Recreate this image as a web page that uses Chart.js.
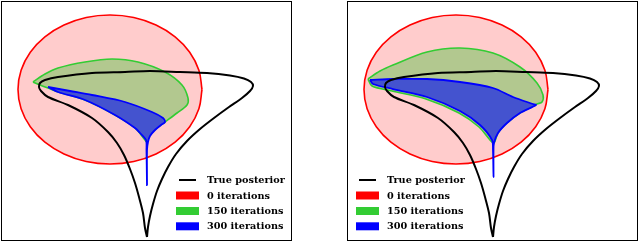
<!DOCTYPE html>
<html>
<head>
<meta charset="utf-8">
<script src="https://cdn.jsdelivr.net/npm/chart.js@4.4.1/dist/chart.umd.min.js"></script>
<style>
  html, body { margin: 0; padding: 0; background: #fff; }
  #wrap { position: relative; width: 640px; height: 242px; }
  canvas { position: absolute; top: 0; }
</style>
</head>
<body>
<div id="wrap">
  <canvas id="left" width="320" height="242" style="left:0"></canvas>
  <canvas id="right" width="320" height="242" style="left:320px"></canvas>
</div>
<script>
// coordinates are in panel units (0..291 wide, 0..240 tall)
const legendLabels = ['True posterior', '0 iterations', '150 iterations', '300 iterations'];

// true posterior contour (same in both panels)
const posteriorX = [146, 147, 149, 152, 156, 161, 167, 175, 186, 199, 213, 228, 241, 249, 252, 250, 243, 229, 206, 179, 149, 124, 91, 57, 44, 39, 38, 40, 47, 67, 91, 107, 116, 123, 129, 134, 138, 142, 144, 146];
const posteriorY = [4, 14, 25, 37, 50, 62, 74, 87, 100, 112, 123, 134, 143, 150, 155, 159, 162.5, 165.5, 168, 169, 170, 169, 168, 164, 161, 158, 154, 150, 144, 136, 123, 109, 98, 86, 72, 58, 44, 28, 13, 4];

// 0 iterations: initial approximation (same in both panels)
const priorX = [201, 197.9, 188.7, 174.1, 155, 132.8, 109, 85.2, 63, 43.9, 29.3, 20.1, 17, 20.1, 29.3, 43.9, 63, 85.2, 109, 132.8, 155, 174.1, 188.7, 197.9, 201];
const priorY = [151.5, 170.8, 188.8, 204.2, 216, 223.5, 226, 223.5, 216, 204.2, 188.8, 170.8, 151.5, 132.2, 114.3, 98.8, 87, 79.5, 77, 79.5, 87, 98.8, 114.3, 132.2, 151.5];

// left panel
const leftGreenX = [32, 44, 57, 84, 111, 137, 164, 181, 187, 186, 176, 164, 156, 149, 146, 144, 134, 114, 84, 57, 47, 39, 32];
const leftGreenY = [159, 167, 173, 179, 182, 179, 169, 156, 143, 136, 128, 119, 113, 106, 99, 101, 113, 126, 141, 149, 153, 156, 159];
const leftBlueX = [47, 69, 91, 124, 151, 162, 164, 160, 154, 149, 147, 146, 146, 145.5, 145, 139, 134, 114, 84, 57, 47];
const leftBlueY = [154, 150, 146, 139, 129, 123, 119, 116, 111, 105, 99, 91, 56, 91, 101, 108, 113, 126, 141, 149, 154];

// right panel
const rightGreenX = [21, 33, 46, 80, 113, 146, 173, 190, 196, 195, 190, 173, 160, 151, 147, 143, 132, 112, 79, 45, 25, 21];
const rightGreenY = [162, 170, 176, 189, 193, 188, 174, 158, 146, 139, 137, 128, 118, 108, 98, 101, 114, 128, 142, 150, 155, 162];
const rightBlueX = [23, 46, 80, 113, 146, 166, 186, 189, 173, 160, 151, 147, 146.5, 146.5, 146, 145, 133, 113, 80, 46, 26, 23];
const rightBlueY = [161, 162, 162, 159, 153, 144, 137, 136, 128, 118, 108, 98, 91, 64, 91, 101, 116, 130, 144, 152, 157, 161];

function pts(xs, ys) {
  return xs.map((x, i) => ({ x: x, y: ys[i] }));
}

const frame = {
  id: 'frame',
  afterDraw(chart) {
    const a = chart.chartArea;
    const ctx = chart.ctx;
    ctx.save();
    ctx.strokeStyle = '#000';
    ctx.lineWidth = 1;
    ctx.strokeRect(a.left + 0.5, a.top + 0.5, a.right - a.left - 1, a.bottom - a.top - 1);
    ctx.restore();
  }
};

const panelLegend = {
  id: 'panelLegend',
  afterDraw(chart, args, opts) {
    const ctx = chart.ctx;
    const rows = [180, 195.5, 211, 226.3];
    ctx.save();
    ctx.font = 'bold 9.7px "DejaVu Serif"';
    ctx.textBaseline = 'middle';
    chart.data.datasets.forEach((ds) => {
      const y = rows[ds.legendRow];
      if (ds.legendRow === 0) {
        ctx.strokeStyle = ds.borderColor;
        ctx.lineWidth = 2;
        ctx.beginPath();
        ctx.moveTo(opts.x + 3, y);
        ctx.lineTo(opts.x + 20, y);
        ctx.stroke();
      } else {
        ctx.fillStyle = ds.borderColor;
        ctx.fillRect(opts.x, y - 4, 23, 8);
      }
      ctx.fillStyle = '#000';
      ctx.fillText(ds.label, opts.x + 31, y + 0.5);
    });
    ctx.restore();
  }
};

function makePanel(id, greenX, greenY, blueX, blueY, pad, legendX) {
  const line = { showLine: true, pointRadius: 0, tension: 0.3 };
  new Chart(document.getElementById(id), {
    type: 'scatter',
    data: {
      datasets: [
        Object.assign({ label: legendLabels[0], legendRow: 0, order: 0, data: pts(posteriorX, posteriorY),
          borderColor: '#000000', borderWidth: 2, fill: false }, line),
        Object.assign({ label: legendLabels[3], legendRow: 3, order: 1, data: pts(blueX, blueY),
          borderColor: '#0000ff', backgroundColor: '#4453cf', borderWidth: 1.8, fill: 'shape' }, line),
        Object.assign({ label: legendLabels[2], legendRow: 2, order: 2, data: pts(greenX, greenY),
          borderColor: '#33cc33', backgroundColor: 'rgba(0,190,0,0.3)', borderWidth: 1.6, fill: 'shape' }, line),
        Object.assign({ label: legendLabels[1], legendRow: 1, order: 3, data: pts(priorX, priorY),
          borderColor: '#ff0000', backgroundColor: 'rgba(255,0,0,0.2)', borderWidth: 1.6, fill: 'shape', tension: 0.4 }, {})
      ]
    },
    options: {
      responsive: false,
      animation: false,
      elements: { point: { radius: 0 } },
      datasets: { scatter: { showLine: true } },
      layout: { padding: pad },
      scales: {
        x: { type: 'linear', display: false, min: 0, max: 291 },
        y: { type: 'linear', display: false, min: 0, max: 240 }
      },
      plugins: {
        legend: { display: false },
        tooltip: { enabled: false },
        panelLegend: { x: legendX }
      }
    },
    plugins: [frame, panelLegend]
  });
}

makePanel('left', leftGreenX, leftGreenY, leftBlueX, leftBlueY, { left: 1, right: 28, top: 1, bottom: 1 }, 176);
makePanel('right', rightGreenX, rightGreenY, rightBlueX, rightBlueY, { left: 27, right: 2, top: 1, bottom: 1 }, 36);
</script>
</body>
</html>
